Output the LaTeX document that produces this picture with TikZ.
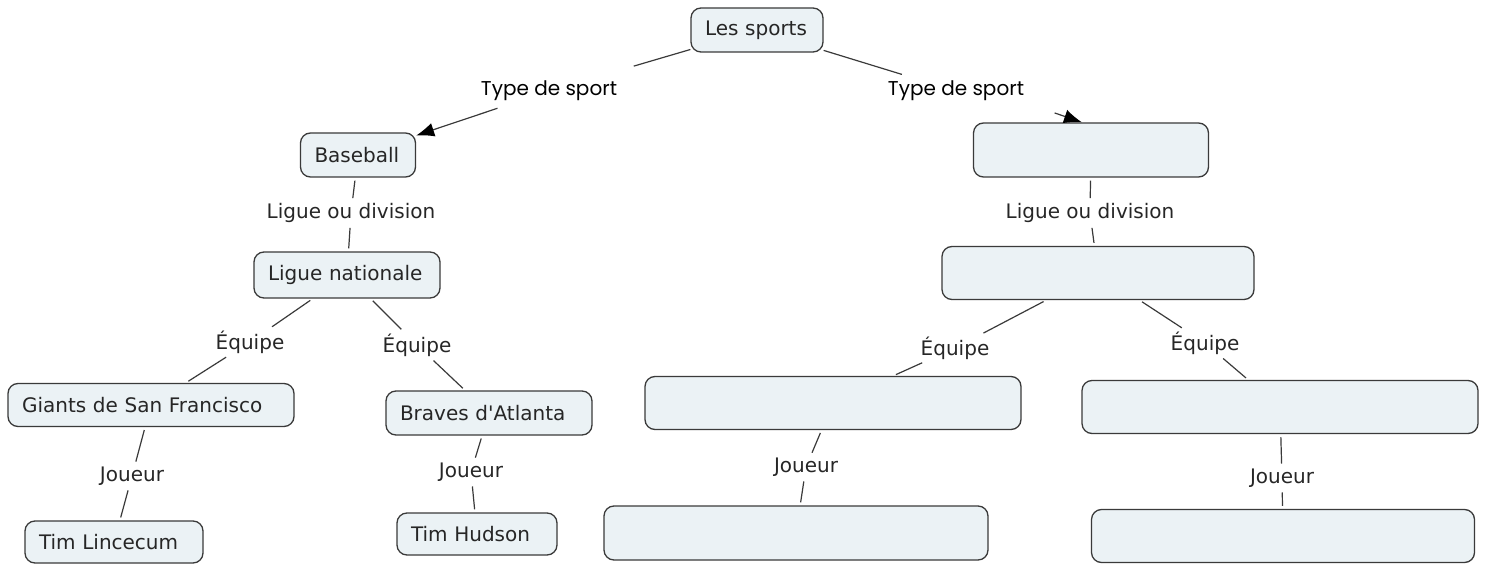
\documentclass[tikz,border=0pt]{standalone}
\usepackage{fontspec}
\setmainfont{DejaVu Sans}[Ligatures=TeXOff]
\newfontfamily\gothicfont{Poppins}
\usetikzlibrary{arrows.meta}

\definecolor{boxfill}{HTML}{EBF2F5}
\definecolor{boxline}{HTML}{3A3A3A}

\tikzset{
  concept/.style={draw=boxline, fill=boxfill, rounded corners=10pt, line width=1.3pt,
    inner xsep=14pt, inner ysep=0pt, align=left, text=black!85,
    font=\fontsize{20}{24}\selectfont},
  lien/.style={inner sep=2pt, text=black!85, font=\fontsize{20}{24}\selectfont},
  lientype/.style={inner sep=2pt, font=\gothicfont\fontsize{20}{24}\selectfont},
  fil/.style={line width=1.2pt, draw=boxline, shorten <=3pt, shorten >=3pt},
  fleche/.style={-{Latex[length=18pt, width=14pt, color=black]}},
}

\begin{document}
\begin{tikzpicture}[x=1pt, y=-1pt]
    \useasboundingbox (0,0) rectangle (1489,564);

    % Racine
    \node[concept, text width=104pt, minimum height=44pt] (sports) at (757,30) {Les sports};

    % Branche baseball
    \node[concept, text width=87pt, minimum height=44pt] (baseball) at (358,155) {Baseball};
    \node[concept, text width=158pt, minimum height=46pt] (nationale) at (347,275) {Ligue nationale};
    \node[concept, text width=258pt, minimum height=43pt] (giants) at (151,405) {Giants de San Francisco};
    \node[concept, text width=178pt, minimum height=44pt] (braves) at (489,413) {Braves d'Atlanta};
    \node[concept, text width=150pt, minimum height=42pt] (lincecum) at (114,542) {Tim Lincecum};
    \node[concept, text width=132pt, minimum height=42pt] (hudson) at (477,534) {Tim Hudson};

    % Branche vide
    \node[concept, text width=207pt, minimum height=54pt] (sportB) at (1091,150) {};
    \node[concept, text width=284pt, minimum height=53pt] (ligueB) at (1098,273) {};
    \node[concept, text width=348pt, minimum height=53pt] (equipeB) at (833,403) {};
    \node[concept, text width=368pt, minimum height=53pt] (equipeC) at (1280,407) {};
    \node[concept, text width=356pt, minimum height=54pt] (joueurB) at (796,533) {};
    \node[concept, text width=355pt, minimum height=53pt] (joueurC) at (1283,536) {};

    % Mots de liaison
    \node[lientype] (typeA) at (549,91) {Type de sport};
    \node[lientype] (typeB) at (956,91) {Type de sport};
    \node[lien] (ligueA) at (351,213) {Ligue ou division};
    \node[lien] (ligueC) at (1090,213) {Ligue ou division};
    \node[lien] (eqA) at (250,342) {Équipe};
    \node[lien] (eqB) at (417,345) {Équipe};
    \node[lien] (eqC) at (955,348) {Équipe};
    \node[lien] (eqD) at (1205,343) {Équipe};
    \node[lien] (jA) at (132,476) {Joueur};
    \node[lien] (jB) at (471,472) {Joueur};
    \node[lien] (jC) at (806,467) {Joueur};
    \node[lien] (jD) at (1282,478) {Joueur};

    % Liens
    \draw[fil, shorten <=0pt, shorten >=45pt] (sports) -- (typeA);
    \draw[fil, fleche, shorten <=16pt, shorten >=0pt] (typeA) -- (baseball);
    \draw[fil, shorten <=0pt, shorten >=15pt] (sports) -- (typeB);
    \draw[fil, fleche, shorten <=30pt, shorten >=0pt] (typeB.south east) -- ([xshift=-9pt]sportB.north);

    \draw[fil] (baseball) -- (ligueA);
    \draw[fil] (ligueA) -- (nationale);
    \draw[fil] (nationale) -- (eqA);
    \draw[fil] (eqA) -- (giants);
    \draw[fil] (nationale) -- (eqB);
    \draw[fil] (eqB) -- (braves);
    \draw[fil] (giants) -- (jA);
    \draw[fil] (jA) -- (lincecum);
    \draw[fil] (braves) -- (jB);
    \draw[fil] (jB) -- (hudson);

    \draw[fil] (sportB) -- (ligueC);
    \draw[fil] (ligueC) -- (ligueB);
    \draw[fil] (ligueB) -- (eqC);
    \draw[fil] (eqC) -- (equipeB);
    \draw[fil] (ligueB) -- (eqD);
    \draw[fil] (eqD) -- (equipeC);
    \draw[fil] (equipeB) -- (jC);
    \draw[fil] (jC) -- (joueurB);
    \draw[fil] (equipeC) -- (jD);
    \draw[fil] (jD) -- (joueurC);
\end{tikzpicture}
\end{document}
